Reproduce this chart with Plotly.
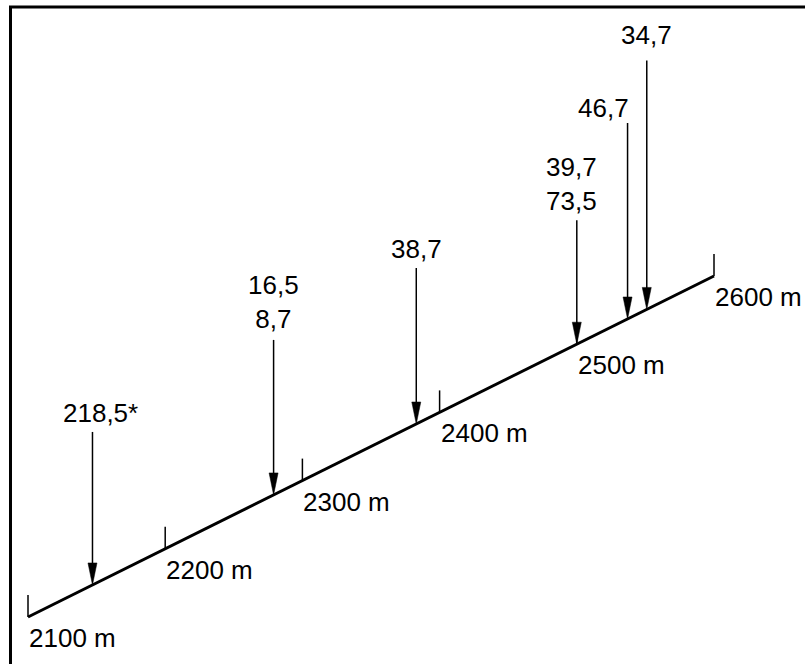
import plotly.graph_objects as go

# ---- data ----
stations = [2100, 2200, 2300, 2400, 2500, 2600]
station_labels = ["2100 m", "2200 m", "2300 m", "2400 m", "2500 m", "2600 m"]
sample_pos = [2147, 2279, 2383, 2500, 2537, 2551]
sample_labels = ["218,5*", "16,5<br>8,7", "38,7", "39,7<br>73,5", "46,7", "34,7"]

# ---- layout parameters (pixels) ----
W, H = 805, 664
arrow_len = [153, 155, 156, 124, 196, 249]   # staggered arrow lengths
label_anchor = ["center", "center", "center", "center", "right", "center"]
label_dx = [8, 0, 0, -5, 3, 0]
label_dy = [2, 4, 2, 2, -2, 8]
tick_len = 22
head_len, head_half = 22, 4.5
PX_PER_M = 1.372          # horizontal scale
SLOPE = 0.682             # vertical rise (px) per metre of the oblique baseline
X0_PX, Y0_PX = 28, 47     # position of the first station (from left / from bottom)

x_min = stations[0] - X0_PX / PX_PER_M
x_max = stations[0] + (W - X0_PX) / PX_PER_M


def base_y(m):
    return Y0_PX + (m - stations[0]) * SLOPE


FONT = dict(family="Liberation Sans, Arial, sans-serif", size=26, color="black")

fig = go.Figure()

# oblique baseline
fig.add_trace(go.Scatter(
    x=[stations[0], stations[-1]],
    y=[base_y(stations[0]), base_y(stations[-1])],
    mode="lines", line=dict(color="black", width=3),
    hoverinfo="skip", showlegend=False))

shapes = []
annotations = []

# station ticks and labels
for m, lab in zip(stations, station_labels):
    shapes.append(dict(type="line", x0=m, x1=m, y0=base_y(m), y1=base_y(m) + tick_len,
                       line=dict(color="black", width=1.5)))
    annotations.append(dict(x=m, y=base_y(m), text=lab, showarrow=False,
                            xanchor="left", yanchor="middle", yshift=-21, xshift=-1,
                            font=FONT))

# sample arrows and labels
hw_m = head_half / PX_PER_M
for m, lab, L, anc, dx, dy in zip(sample_pos, sample_labels, arrow_len,
                                  label_anchor, label_dx, label_dy):
    yb = base_y(m)
    top = yb + L
    shapes.append(dict(type="line", x0=m, x1=m, y0=top, y1=yb + head_len - 2,
                       line=dict(color="black", width=1.5)))
    shapes.append(dict(type="path",
                       path=f"M {m - hw_m},{yb + head_len} L {m + hw_m},{yb + head_len} L {m},{yb} Z",
                       fillcolor="black", line=dict(color="black", width=0.5)))
    annotations.append(dict(x=m, y=top, text=lab, showarrow=False,
                            xanchor=anc, yanchor="bottom", yshift=dy, xshift=dx,
                            font=FONT))

# frame (top and left edges visible)
shapes.append(dict(type="line", xref="paper", yref="paper", x0=10.5 / W, x1=10.5 / W,
                   y0=0, y1=1 - 6.5 / H, line=dict(color="black", width=3)))
shapes.append(dict(type="line", xref="paper", yref="paper", x0=9 / W, x1=1,
                   y0=1 - 7 / H, y1=1 - 7 / H, line=dict(color="black", width=3)))

fig.update_layout(
    width=W, height=H,
    margin=dict(l=0, r=0, t=0, b=0),
    paper_bgcolor="white", plot_bgcolor="white",
    xaxis=dict(range=[x_min, x_max], visible=False, fixedrange=True),
    yaxis=dict(range=[0, H], visible=False, fixedrange=True),
    shapes=shapes, annotations=annotations,
    showlegend=False,
)

fig.write_html("out.html", config=dict(displayModeBar=False),
               post_script="document.body.style.margin='0px';"
                           "document.body.style.overflow='hidden';"
                           "document.documentElement.style.overflow='hidden';")
